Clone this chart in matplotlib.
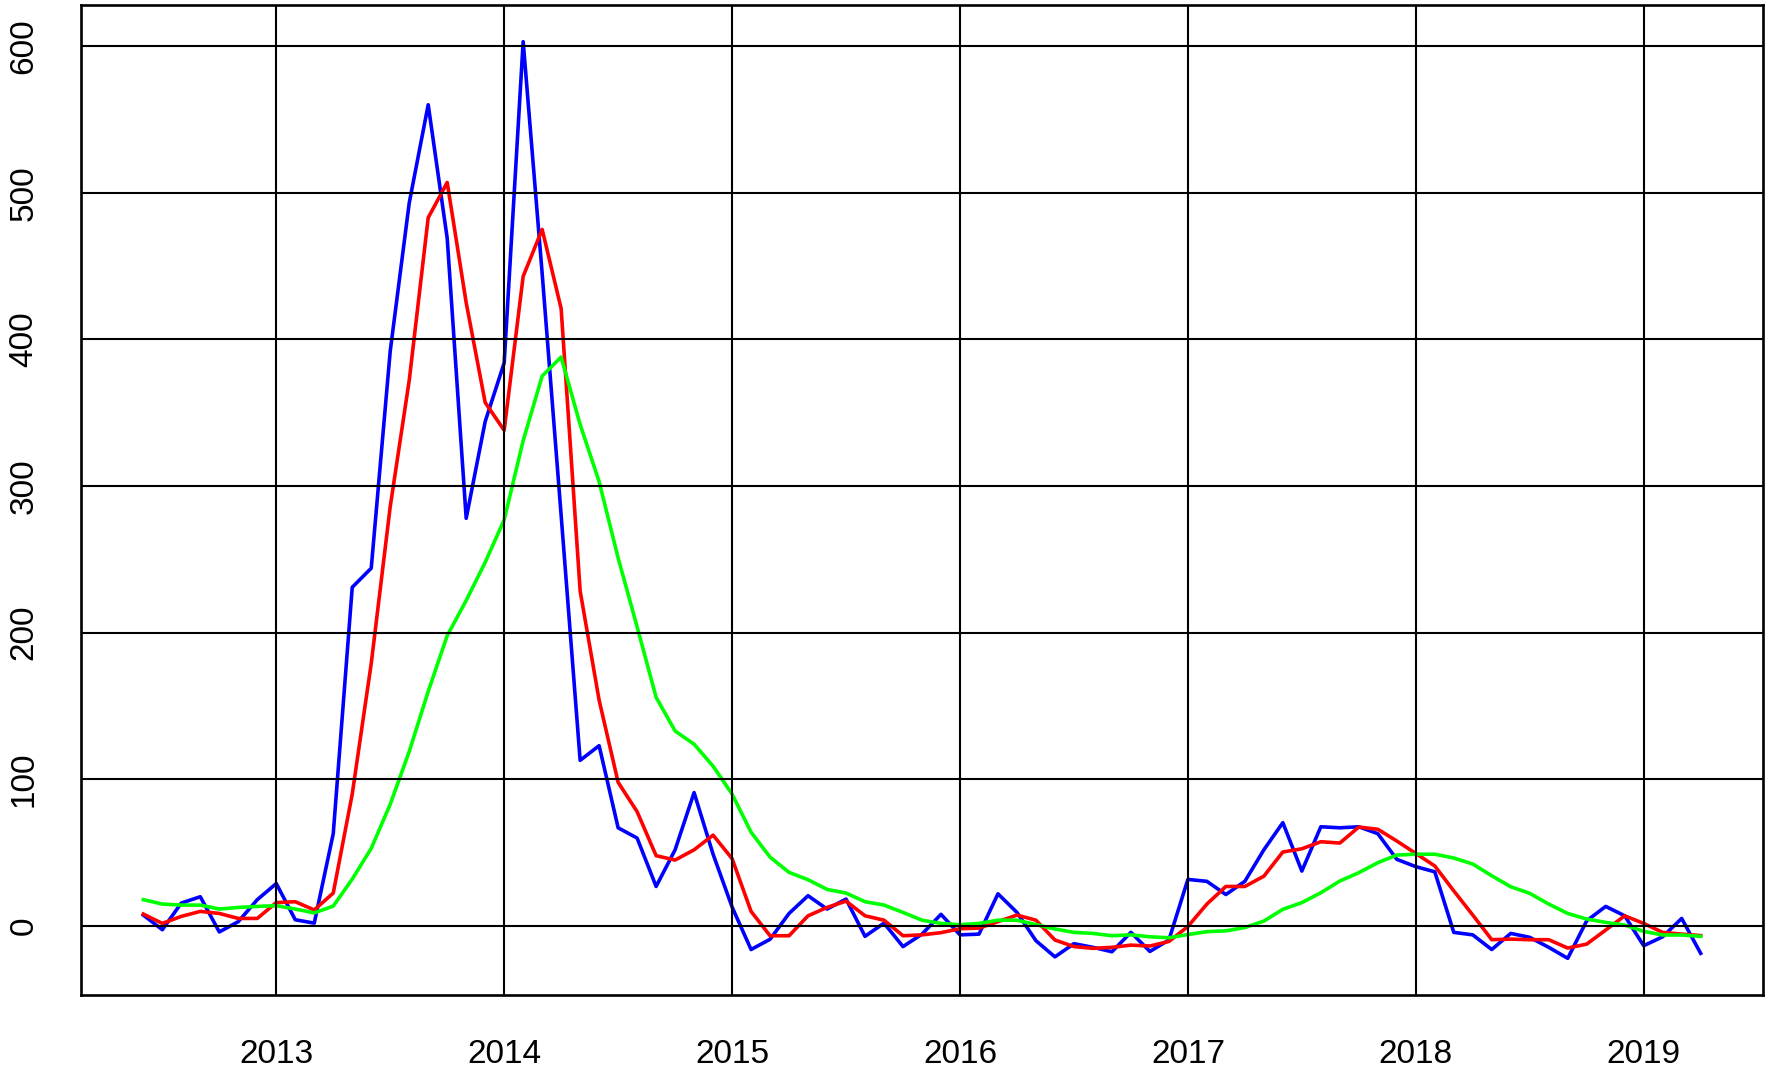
import numpy as np
import matplotlib
matplotlib.use('Agg')
import matplotlib.pyplot as plt

# monthly series, June 2012 .. April 2019
start_year = 2012
start_month = 6

blue = [7.5, -2.5, 15.7, 20, -4, 3, 18, 29, 4.3, 2,
        63, 231, 244, 392, 493, 560, 469, 278, 344, 384,
        603, 445, 280, 113, 123, 67, 60, 27, 52, 91,
        49, 13, -16, -9, 8.6, 20.7, 11.6, 18.4, -7, 2,
        -14, -5.5, 8, -6, -5.5, 22, 9.3, -10, -21, -12,
        -14.5, -17.5, -4.3, -17.3, -9.5, 31.8, 30.5, 21.5, 30.5, 52,
        70.5, 37.5, 67.7, 67, 67.7, 63, 45.5, 40.5, 37, -4.3,
        -6, -16, -5, -7.7, -14.5, -22, 3.6, 13.4, 7, -13.4,
        -7.3, 5.2, -18.6]

red = [8.2, 1.8, 6.6, 10, 8.6, 5.2, 5.2, 16, 16.6, 11,
       22.5, 90, 179, 286, 372, 483, 507, 425, 357, 338,
       443, 475, 421, 228.5, 154, 98, 78, 48, 45, 52,
       62, 46, 10, -6.6, -6.6, 7, 12.7, 17, 7, 4,
       -6.6, -6, -4.5, -1.8, -1.4, 3, 7.5, 4, -9.5, -14,
       -15.2, -14.5, -13, -13.6, -10.5, -0.3, 15, 27, 27, 34,
       50.5, 52.7, 57.5, 56.6, 67.5, 66, 58, 49.5, 41, 24,
       7.5, -9.3, -8.9, -9.3, -9.3, -15, -12.3, -2.7, 7, 1.8,
       -4.3, -5.5, -6.5]

green = [18, 15, 14.3, 14.3, 11.6, 12.7, 13.4, 13.9, 11.6, 9,
         13.6, 32, 53, 83, 119, 160, 198, 222, 248, 277,
         331, 375, 388, 342, 303, 251, 204, 156, 133, 124,
         109, 90, 64, 47, 36.6, 31.6, 25, 22.5, 16.6, 14.3,
         9.3, 4, 1.8, 0.9, 1.8, 4, 4, 1, -2, -4.3,
         -5, -6.6, -6, -7.3, -8, -5.8, -3.8, -3.3, -1, 3.4,
         11.4, 16, 22.7, 30.7, 36.4, 43.2, 48.4, 49, 49, 46.4,
         42.3, 34.3, 26.8, 22.3, 15, 8.6, 4.8, 2.5, 0.7, -3.6,
         -6.1, -6.1, -7]

years = [2013, 2014, 2015, 2016, 2017, 2018, 2019]
yticks = [0, 100, 200, 300, 400, 500, 600]

t = start_year + (start_month - 1) / 12 + np.arange(len(blue)) / 12

plt.rcParams['font.family'] = ['Liberation Sans', 'DejaVu Sans']

fig = plt.figure(figsize=(17.77, 10.70), dpi=100)
ax = fig.add_axes([0.0456, 0.0701, 0.9465, 0.9252])

ax.plot(t, blue, color='#0000ff', lw=2.6, zorder=2)
ax.plot(t, red, color='#ff0000', lw=2.6, zorder=2)
ax.plot(t, green, color='#00ff00', lw=2.6, zorder=2)

# grid drawn over the series, like abline() after plot()
for yv in yticks:
    ax.axhline(yv, color='black', lw=1.5, zorder=3)
for xv in years:
    ax.axvline(xv, color='black', lw=1.5, zorder=3)

span = t[-1] - t[0]
ax.set_xlim(t[0] - 0.04 * span, t[-1] + 0.04 * span)
lo = min(min(blue), min(red), min(green))
hi = max(max(blue), max(red), max(green))
ax.set_ylim(lo - 0.04 * (hi - lo), hi + 0.04 * (hi - lo))

ax.set_xticks(years)
ax.set_xticklabels([str(y) for y in years])
ax.set_yticks(yticks)
ax.set_yticklabels([str(v) for v in yticks], rotation=90, va='center')
ax.tick_params(axis='x', length=0, pad=32, labelsize=24)
ax.tick_params(axis='y', length=0, pad=30, labelsize=24)

for s in ax.spines.values():
    s.set_linewidth(1.9)
    s.set_zorder(4)

fig.savefig('out.png', dpi=100)
